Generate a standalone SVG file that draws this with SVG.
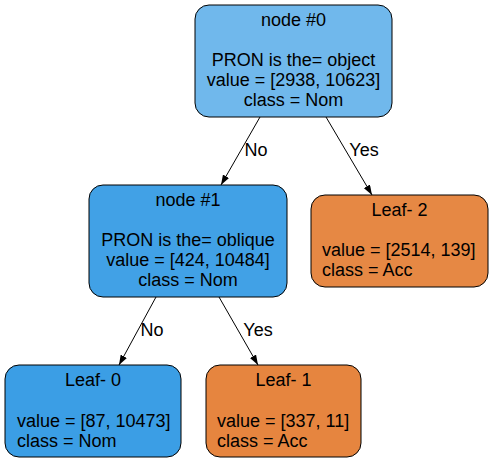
<svg xmlns="http://www.w3.org/2000/svg" width="492" height="463" viewBox="0 0 492 463">
<style>
text{font-family:"Liberation Sans",Arial,sans-serif;font-size:18px;fill:#000}
.c{text-anchor:middle}
.box{stroke:#000;stroke-width:1}
.edge{stroke:#000;stroke-width:1;fill:none}
</style>
<defs>
<marker id="arr" viewBox="0 0 10 7" refX="10" refY="3.5" markerWidth="10" markerHeight="7" markerUnits="userSpaceOnUse" orient="auto">
<path d="M0,0 L10,3.5 L0,7 Z" fill="#000"/>
</marker>
</defs>
<rect width="492" height="463" fill="#fff"/>
<g id="connectors">
<path class="edge" d="M260,117 L221,185" marker-end="url(#arr)"/>
<text x="256" y="156" class="c">No</text>
<path class="edge" d="M326,117 L372,195" marker-end="url(#arr)"/>
<text x="364" y="156" class="c">Yes</text>
<path class="edge" d="M156,297 L119,365" marker-end="url(#arr)"/>
<text x="152" y="336" class="c">No</text>
<path class="edge" d="M219,297 L258,365" marker-end="url(#arr)"/>
<text x="258" y="336" class="c">Yes</text>
</g>
<g id="node0">
<rect class="box" x="195" y="5" width="197" height="112" rx="14" fill="#70b8ec"/>
<text x="293.5" y="26" class="c">node #0</text>
<text x="293.5" y="66" class="c">PRON is the= object</text>
<text x="293.5" y="86" class="c">value = [2938, 10623]</text>
<text x="293.5" y="106" class="c">class = Nom</text>
</g>
<g id="node1">
<rect class="box" x="89" y="185" width="198" height="112" rx="14" fill="#41a1e6"/>
<text x="188" y="206" class="c">node #1</text>
<text x="188" y="246" class="c">PRON is the= oblique</text>
<text x="188" y="266" class="c">value = [424, 10484]</text>
<text x="188" y="286" class="c">class = Nom</text>
</g>
<g id="leaf2">
<rect class="box" x="311" y="195" width="177" height="92" rx="14" fill="#e68844"/>
<text x="399.5" y="216" class="c">Leaf- 2</text>
<text x="322" y="256">value = [2514, 139]</text>
<text x="322" y="276">class = Acc</text>
</g>
<g id="leaf0">
<rect class="box" x="5" y="365" width="176" height="92" rx="14" fill="#3b9ee5"/>
<text x="93" y="386" class="c">Leaf- 0</text>
<text x="17" y="427">value = [87, 10473]</text>
<text x="17" y="447">class = Nom</text>
</g>
<g id="leaf1">
<rect class="box" x="206" y="365" width="155" height="92" rx="14" fill="#e6853f"/>
<text x="283.5" y="386" class="c">Leaf- 1</text>
<text x="217" y="427">value = [337, 11]</text>
<text x="217" y="447">class = Acc</text>
</g>
</svg>
